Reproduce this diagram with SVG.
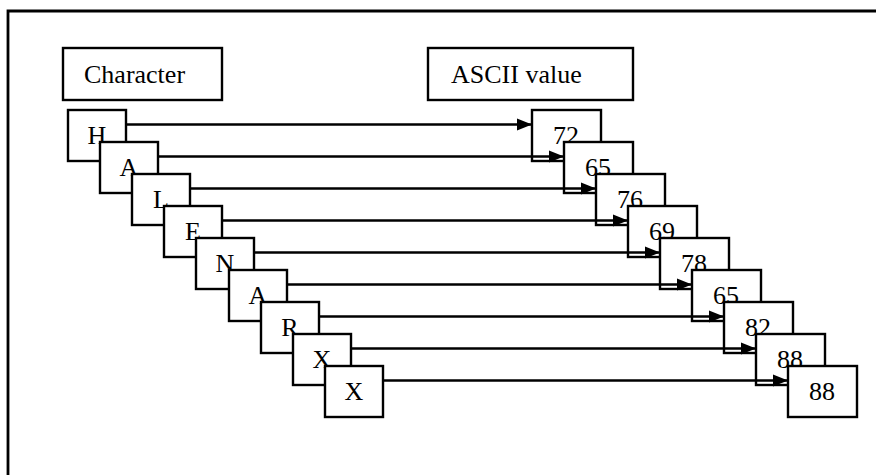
<svg xmlns="http://www.w3.org/2000/svg" width="876" height="475" viewBox="0 0 876 475">
  <style>
    .box { fill: #ffffff; stroke: #000000; stroke-width: 2.4; }
    .lbl { font-family: 'Times New Roman', 'Liberation Serif', Times, 'DejaVu Serif', serif; font-size: 26px; fill: #000000; }
    .mid { text-anchor: middle; }
    .link { stroke: #000000; stroke-width: 2.4; fill: none; marker-end: url(#head); }
  </style>
  <defs>
    <marker id="head" markerUnits="userSpaceOnUse" markerWidth="16" markerHeight="13" refX="15" refY="6.5" orient="auto">
      <path d="M0,0.5 L15,6.5 L0,12.5 Z" fill="#000000"/>
    </marker>
  </defs>

  <rect width="876" height="475" fill="#ffffff"/>
  <!-- outer frame, open to the right and bottom -->
  <path d="M8,480 L8,11 L880,11" fill="none" stroke="#000000" stroke-width="2.8"/>

  <!-- column headers -->
  <g id="hdr-char">
    <rect class="box" x="63" y="48" width="159" height="52"/>
    <text class="lbl" x="84" y="83">Character</text>
  </g>
  <g id="hdr-ascii">
    <rect class="box" x="428" y="48" width="205" height="52"/>
    <text class="lbl" x="451" y="83">ASCII value</text>
  </g>

  <!-- character boxes -->
  <g id="c1"><rect class="box" x="68" y="110" width="58" height="51"/><text class="lbl mid" x="97" y="144">H</text></g>
  <g id="c2"><rect class="box" x="100" y="142" width="58" height="51"/><text class="lbl mid" x="129" y="176">A</text></g>
  <g id="c3"><rect class="box" x="132" y="174" width="58" height="51"/><text class="lbl mid" x="161" y="208">L</text></g>
  <g id="c4"><rect class="box" x="164" y="206" width="58" height="51"/><text class="lbl mid" x="193" y="240">E</text></g>
  <g id="c5"><rect class="box" x="196" y="238" width="58" height="51"/><text class="lbl mid" x="225" y="272">N</text></g>
  <g id="c6"><rect class="box" x="229" y="270" width="58" height="51"/><text class="lbl mid" x="258" y="304">A</text></g>
  <g id="c7"><rect class="box" x="261" y="302" width="58" height="51"/><text class="lbl mid" x="290" y="336">R</text></g>
  <g id="c8"><rect class="box" x="293" y="334" width="58" height="51"/><text class="lbl mid" x="322" y="368">X</text></g>
  <g id="c9"><rect class="box" x="325" y="366" width="58" height="51"/><text class="lbl mid" x="354" y="400">X</text></g>

  <!-- value boxes -->
  <g id="v1"><rect class="box" x="532" y="110" width="69" height="51"/><text class="lbl mid" x="566" y="144">72</text></g>
  <g id="v2"><rect class="box" x="564" y="142" width="69" height="51"/><text class="lbl mid" x="598" y="176">65</text></g>
  <g id="v3"><rect class="box" x="596" y="174" width="69" height="51"/><text class="lbl mid" x="630" y="208">76</text></g>
  <g id="v4"><rect class="box" x="628" y="206" width="69" height="51"/><text class="lbl mid" x="662" y="240">69</text></g>
  <g id="v5"><rect class="box" x="660" y="238" width="69" height="51"/><text class="lbl mid" x="694" y="272">78</text></g>
  <g id="v6"><rect class="box" x="692" y="270" width="69" height="51"/><text class="lbl mid" x="726" y="304">65</text></g>
  <g id="v7"><rect class="box" x="724" y="302" width="69" height="51"/><text class="lbl mid" x="758" y="336">82</text></g>
  <g id="v8"><rect class="box" x="756" y="334" width="69" height="51"/><text class="lbl mid" x="790" y="368">88</text></g>
  <g id="v9"><rect class="box" x="788" y="366" width="69" height="51"/><text class="lbl mid" x="822" y="400">88</text></g>

  <!-- connectors: character to its ASCII value -->
  <g id="connectors">
    <line class="link" x1="126" y1="124.5" x2="532" y2="124.5"/>
    <line class="link" x1="158" y1="156.5" x2="564" y2="156.5"/>
    <line class="link" x1="190" y1="188.5" x2="596" y2="188.5"/>
    <line class="link" x1="222" y1="220.5" x2="628" y2="220.5"/>
    <line class="link" x1="254" y1="252.5" x2="660" y2="252.5"/>
    <line class="link" x1="287" y1="284.5" x2="692" y2="284.5"/>
    <line class="link" x1="319" y1="316.5" x2="724" y2="316.5"/>
    <line class="link" x1="351" y1="348.5" x2="756" y2="348.5"/>
    <line class="link" x1="383" y1="380.5" x2="788" y2="380.5"/>
  </g>
</svg>
